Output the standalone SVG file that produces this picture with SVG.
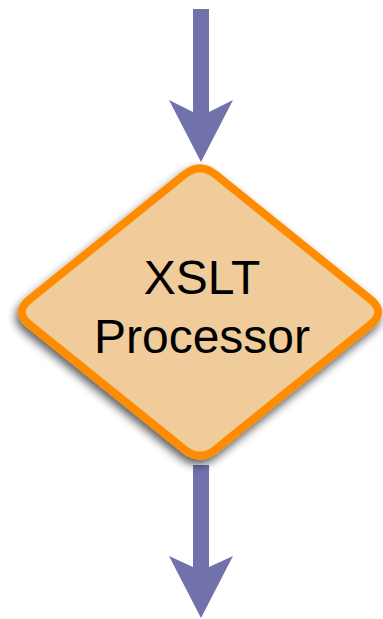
<svg xmlns="http://www.w3.org/2000/svg" width="383" height="619" viewBox="0 0 383 619">
<style>
.arrow{fill:#7171AB;}
.decision{fill:#EFCC9A;stroke:#FF8C00;stroke-width:8;stroke-linejoin:round;}
.label{font-family:"Liberation Sans",Arial,sans-serif;font-size:48px;fill:#000;text-anchor:middle;}
</style>
<defs>
<filter id="shadow" x="-20%" y="-20%" width="140%" height="150%">
<feGaussianBlur in="SourceAlpha" stdDeviation="5"/>
<feOffset dx="-2" dy="5" result="b"/>
<feComponentTransfer><feFuncA type="linear" slope="0.65"/></feComponentTransfer>
<feMerge><feMergeNode/><feMergeNode in="SourceGraphic"/></feMerge>
</filter>
</defs>
<g id="connectors">
<polygon class="arrow" points="193,9 209,9 209,112 233,100 201,162 169,100 193,112"/>
<polygon class="arrow" points="193,465 209,465 209,567 233,556 201,618 169,556 193,567"/>
</g>
<g id="xslt-processor">
<path class="decision" filter="url(#shadow)" d="M184.4,174.6 Q200,162 215.6,174.6 L370.4,299.4 Q386,312 370.4,324.6 L215.6,449.4 Q200,462 184.4,449.4 L29.6,324.6 Q14,312 29.6,299.4 Z"/>
<text class="label" x="202" y="294">XSLT</text>
<text class="label" x="202" y="353">Processor</text>
</g>
</svg>
